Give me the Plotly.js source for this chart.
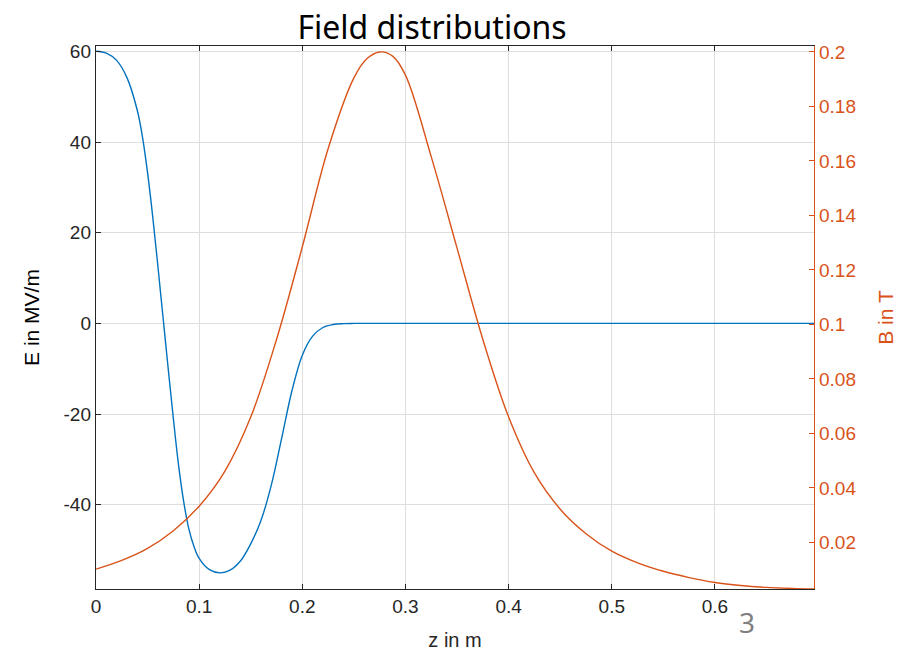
<!DOCTYPE html>
<html>
<head>
<meta charset="utf-8">
<script src="https://cdn.plot.ly/plotly-3.0.1.min.js"></script>
<style>html,body{margin:0;padding:0;background:#fff;}#chart{width:900px;height:653px;}</style>
</head>
<body>
<div id="chart"></div>
<script>
// Electric field E (MV/m) along z (m)
const zE = [0, 0.01, 0.02, 0.03, 0.04, 0.045, 0.05, 0.055, 0.06, 0.065, 0.07, 0.075, 0.08, 0.085, 0.09, 0.095, 0.10, 0.11, 0.12, 0.13, 0.14, 0.15, 0.16, 0.17, 0.18, 0.19, 0.20, 0.21, 0.22, 0.23, 0.24, 0.25, 0.30, 0.40, 0.50, 0.60, 0.696];
const E  = [60, 59.6, 58.0, 54.2, 47.0, 41.2, 33.2, 23.5, 12.6, 1.3, -10.0, -21.0, -31.2, -39.3, -45.3, -49.2, -51.8, -54.3, -55.0, -54.4, -52.4, -48.6, -43.4, -35.6, -25.3, -14.8, -7.0, -2.8, -0.9, -0.25, -0.05, 0, 0, 0, 0, 0, 0];
// Magnetic field B (T) along z (m)
const zB = [0, 0.025, 0.05, 0.075, 0.1, 0.125, 0.15, 0.175, 0.2, 0.225, 0.25, 0.2625, 0.275, 0.2875, 0.3, 0.325, 0.35, 0.375, 0.4, 0.425, 0.45, 0.475, 0.5, 0.525, 0.55, 0.575, 0.6, 0.625, 0.65, 0.675, 0.696];
const B  = [0.0102, 0.0134, 0.0178, 0.0243, 0.0333, 0.0462, 0.0660, 0.0945, 0.1285, 0.1645, 0.1905, 0.1975, 0.2, 0.1985, 0.1915, 0.1615, 0.128, 0.0945, 0.066, 0.0455, 0.0322, 0.0232, 0.0168, 0.0125, 0.0094, 0.0071, 0.0053, 0.0042, 0.0035, 0.0031, 0.0029];

const xTicks = [0, 0.1, 0.2, 0.3, 0.4, 0.5, 0.6];
const xTickText = ['0', '0.1', '0.2', '0.3', '0.4', '0.5', '0.6'];
const yTicks = [-40, -20, 0, 20, 40, 60];
const yTickText = ['-40', '-20', '0', '20', '40', '60'];
const y2Ticks = [0.02, 0.04, 0.06, 0.08, 0.1, 0.12, 0.14, 0.16, 0.18, 0.2];
const y2TickText = ['0.02', '0.04', '0.06', '0.08', '0.1', '0.12', '0.14', '0.16', '0.18', '0.2'];

const blue = '#0072BD', orange = '#D95319', dark = '#262626';
const sans = 'Liberation Sans, Arial, sans-serif';
const tickFont = {family: sans, size: 19, color: dark};

const traces = [
  {x: zE, y: E, type: 'scatter', mode: 'lines', line: {color: blue, width: 1.4, shape: 'spline', smoothing: 1}, yaxis: 'y', hoverinfo: 'skip'},
  {x: zB, y: B, type: 'scatter', mode: 'lines', line: {color: orange, width: 1.4, shape: 'spline', smoothing: 1}, yaxis: 'y2', hoverinfo: 'skip'}
];

const layout = {
  width: 900, height: 653,
  margin: {l: 96, r: 86, t: 46, b: 64},
  paper_bgcolor: '#fff', plot_bgcolor: '#fff',
  showlegend: false,
  title: {text: 'Field distributions', font: {family: 'Noto Sans, Open Sans, sans-serif', size: 32, color: '#000'},
          x: 0.468, xref: 'paper', xanchor: 'center', y: 0.957, yanchor: 'middle'},
  xaxis: {range: [0, 0.696], tickvals: xTicks, ticktext: xTickText, ticks: 'inside', ticklen: 5, tickcolor: dark,
          showline: true, linecolor: dark, linewidth: 1.2, mirror: 'ticks', showgrid: true, gridcolor: '#dedede', gridwidth: 1,
          zeroline: false, tickfont: tickFont,
          title: {text: 'z in m', font: {family: sans, size: 20, color: dark}, standoff: 17}},
  yaxis: {range: [-58.56, 61.17], tickvals: yTicks, ticktext: yTickText, ticks: 'inside', ticklen: 5, tickcolor: dark,
          showline: true, linecolor: dark, linewidth: 1.2, showgrid: true, gridcolor: '#dedede', gridwidth: 1,
          zeroline: false, tickfont: tickFont,
          title: {text: 'E in MV/m', font: {family: sans, size: 21, color: '#000'}, standoff: 18}},
  yaxis2: {range: [0.0029, 0.2022], tickvals: y2Ticks, ticktext: y2TickText, overlaying: 'y', side: 'right',
           ticks: 'inside', ticklen: 5, tickcolor: orange, showline: true, linecolor: orange, linewidth: 1.2,
           showgrid: false, zeroline: false, tickfont: {family: sans, size: 19, color: orange},
           title: {text: 'B in T', font: {family: sans, size: 21, color: orange}, standoff: 22}},
  annotations: [
    {text: '3', xref: 'paper', yref: 'paper', x: 0.9067, y: -0.0608, xanchor: 'center', yanchor: 'middle', showarrow: false,
     font: {family: 'Noto Sans, Open Sans, sans-serif', size: 28, color: '#7f7f7f'}}
  ]
};

Plotly.newPlot('chart', traces, layout, {staticPlot: true, displayModeBar: false});
</script>
</body>
</html>
